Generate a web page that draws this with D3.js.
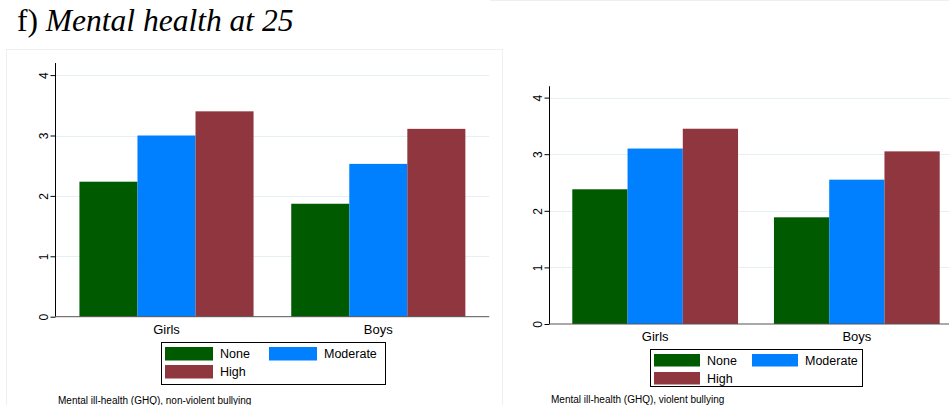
<!DOCTYPE html>
<html>
<head>
<meta charset="utf-8">
<script src="https://cdn.jsdelivr.net/npm/d3@7"></script>
<style>
  html, body { margin: 0; padding: 0; background: #ffffff; }
  svg { display: block; }
</style>
</head>
<body>
<script>
// ---- Data ----
const categories = ["Girls", "Boys"];
const seriesNames = ["None", "Moderate", "High"];
const seriesColors = ["#005a00", "#0080ff", "#8f363e"];
const yTicks = [0, 1, 2, 3, 4];

// Panel 1: non-violent bullying
const nonViolentNone = [2.235, 1.87];
const nonViolentModerate = [3.00, 2.53];
const nonViolentHigh = [3.40, 3.11];

// Panel 2: violent bullying
const violentNone = [2.38, 1.885];
const violentModerate = [3.10, 2.55];
const violentHigh = [3.45, 3.05];

const titlePrefix = "f) ";
const titleItalic = "Mental health at 25";
const note1 = "Mental ill-health (GHQ),  non-violent bullying";
const note2 = "Mental ill-health (GHQ), violent bullying";

// ---- Drawing ----
const W = 949, H = 405;
const svg = d3.select("body").append("svg").attr("width", W).attr("height", H);

// Title
const title = svg.append("text").attr("x", 17).attr("y", 31)
  .attr("font-family", "'Liberation Serif', 'Times New Roman', serif")
  .attr("font-size", 31.5).attr("fill", "#000");
title.append("tspan").text(titlePrefix);
title.append("tspan").attr("font-style", "italic").text(titleItalic);

// faint panel frames
svg.append("rect").attr("x", 6.5).attr("y", 49.5).attr("width", 496).attr("height", 370)
  .attr("fill", "none").attr("stroke", "#eef0f0");
svg.append("line").attr("x1", 490).attr("x2", W).attr("y1", 0.5).attr("y2", 0.5)
  .attr("stroke", "#eef0f0");

function drawPanel(cfg, seriesData, note) {
  const g = svg.append("g");
  const y = d3.scaleLinear().domain([0, 4.2]).range([cfg.y0, cfg.y0 - 4.2 * cfg.unit]);
  const x0 = d3.scaleBand().domain(categories).range([cfg.xAxis, cfg.xRight])
    .paddingInner(0.178).paddingOuter(0.113);
  const x1 = d3.scaleBand().domain(seriesNames).range([0, x0.bandwidth()]).padding(0);

  // gridlines
  g.append("g").selectAll("line").data(yTicks.filter(d => d > 0)).join("line")
    .attr("x1", cfg.xAxis).attr("x2", cfg.gridRight)
    .attr("y1", d => Math.round(y(d)) + 0.5).attr("y2", d => Math.round(y(d)) + 0.5)
    .attr("stroke", "#e6eff1").attr("stroke-width", 1);

  // bars
  const groups = g.append("g").selectAll("g").data(categories).join("g")
    .attr("transform", d => `translate(${x0(d)},0)`);
  groups.selectAll("rect")
    .data((c, ci) => seriesNames.map((s, si) => ({ s, si, v: seriesData[si][ci] })))
    .join("rect")
    .attr("x", d => x1(d.s)).attr("width", x1.bandwidth())
    .attr("y", d => y(d.v)).attr("height", d => y(0) - y(d.v))
    .attr("fill", d => seriesColors[d.si]);

  // y axis
  const yAxis = d3.axisLeft(y).tickValues(yTicks).tickSize(5).tickPadding(3).tickFormat(d3.format("d"));
  const ya = g.append("g").attr("transform", `translate(${cfg.xAxis},0)`).call(yAxis);
  ya.select(".domain").attr("stroke", "#000").attr("d", `M0,${y(0)}V${y(4.2)}`);
  ya.selectAll(".tick line").attr("stroke", "#000");
  ya.selectAll(".tick text")
    .attr("font-family", "'Liberation Sans', Arial, sans-serif").attr("font-size", 12).attr("fill", "#000")
    .attr("transform", "rotate(-90)")
    .attr("x", 0).attr("y", -8).attr("dy", 0)
    .attr("text-anchor", "middle")
    .attr("dominant-baseline", "auto");

  // x axis
  const xa = g.append("g").attr("transform", `translate(0,${y(0)})`)
    .call(d3.axisBottom(x0).tickSize(0).tickPadding(0));
  xa.select(".domain").attr("stroke", "#555").attr("d", `M${cfg.xAxis},0H${cfg.gridRight}`);
  xa.selectAll(".tick text")
    .attr("font-family", "'Liberation Sans', Arial, sans-serif").attr("font-size", 13).attr("fill", "#000")
    .attr("y", cfg.labelDy).attr("dy", 0);

  // legend
  const lg = g.append("g");
  lg.append("rect").attr("x", cfg.legX + 0.5).attr("y", cfg.legY + 0.5)
    .attr("width", cfg.legW).attr("height", cfg.legH)
    .attr("fill", "#fff").attr("stroke", "#000").attr("stroke-width", 1);
  const pos = [
    { dx: 4, dy: 5 },
    { dx: cfg.col2, dy: 5 },
    { dx: 4, dy: 23 }
  ];
  seriesNames.forEach((s, i) => {
    lg.append("rect").attr("x", cfg.legX + pos[i].dx).attr("y", cfg.legY + pos[i].dy)
      .attr("width", cfg.swW).attr("height", cfg.swH).attr("fill", seriesColors[i]);
    lg.append("text").attr("x", cfg.legX + pos[i].dx + cfg.swW + 7)
      .attr("y", cfg.legY + pos[i].dy + cfg.swH / 2 + 4.5)
      .attr("font-family", "'Liberation Sans', Arial, sans-serif").attr("font-size", 12.5)
      .attr("fill", "#000").text(s);
  });

  // note
  g.append("text").attr("x", cfg.noteX).attr("y", cfg.noteY)
    .attr("font-family", "'Liberation Sans', Arial, sans-serif").attr("font-size", 10)
    .attr("fill", "#000").text(note);
}

drawPanel({
  xAxis: 55.5, xRight: 489.3, gridRight: 489.3, y0: 316.7, unit: 60.4,
  labelDy: 17,
  legX: 161, legY: 342, legW: 224, legH: 42, col2: 108, swW: 48, swH: 13.5,
  noteX: 58, noteY: 404
}, [nonViolentNone, nonViolentModerate, nonViolentHigh], note1);

drawPanel({
  xAxis: 549.5, xRight: 962.5, gridRight: 949, y0: 324, unit: 56.6,
  labelDy: 17,
  legX: 650, legY: 349, legW: 212, legH: 37, col2: 102, swW: 46, swH: 12.5,
  noteX: 551, noteY: 403
}, [violentNone, violentModerate, violentHigh], note2);
</script>
</body>
</html>
